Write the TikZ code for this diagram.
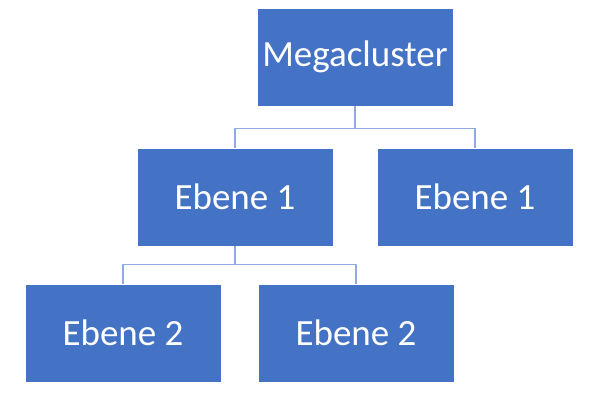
\documentclass[tikz,border=0pt]{standalone}
\usepackage{fontspec}
\setmainfont{Carlito}
\definecolor{boxblue}{RGB}{68,114,196}
\definecolor{linkblue}{RGB}{143,170,220}
\begin{document}
\begin{tikzpicture}[x=1pt,y=-1pt,
  box/.style={fill=boxblue,draw=white,line width=0.8pt,minimum width=196pt,minimum height=98pt,inner sep=0pt,text=white,font=\fontsize{37}{40}\selectfont},
  link/.style={draw=linkblue,line width=1.2pt}]
\useasboundingbox (0,0) rectangle (598,400);
\node[box] (m) at (355,57) {Megacluster};
\node[box] (a) at (235,197) {Ebene 1};
\node[box] (b) at (475,197) {Ebene 1};
\node[box] (c) at (123,333) {Ebene 2};
\node[box] (d) at (356,333) {Ebene 2};
\draw[link] (m.south) -- ++(0,22) -| (a.north);
\draw[link] (m.south) -- ++(0,22) -| (b.north);
\draw[link] (a.south) -- ++(0,18) -| (c.north);
\draw[link] (a.south) -- ++(0,18) -| (d.north);
\end{tikzpicture}
\end{document}
